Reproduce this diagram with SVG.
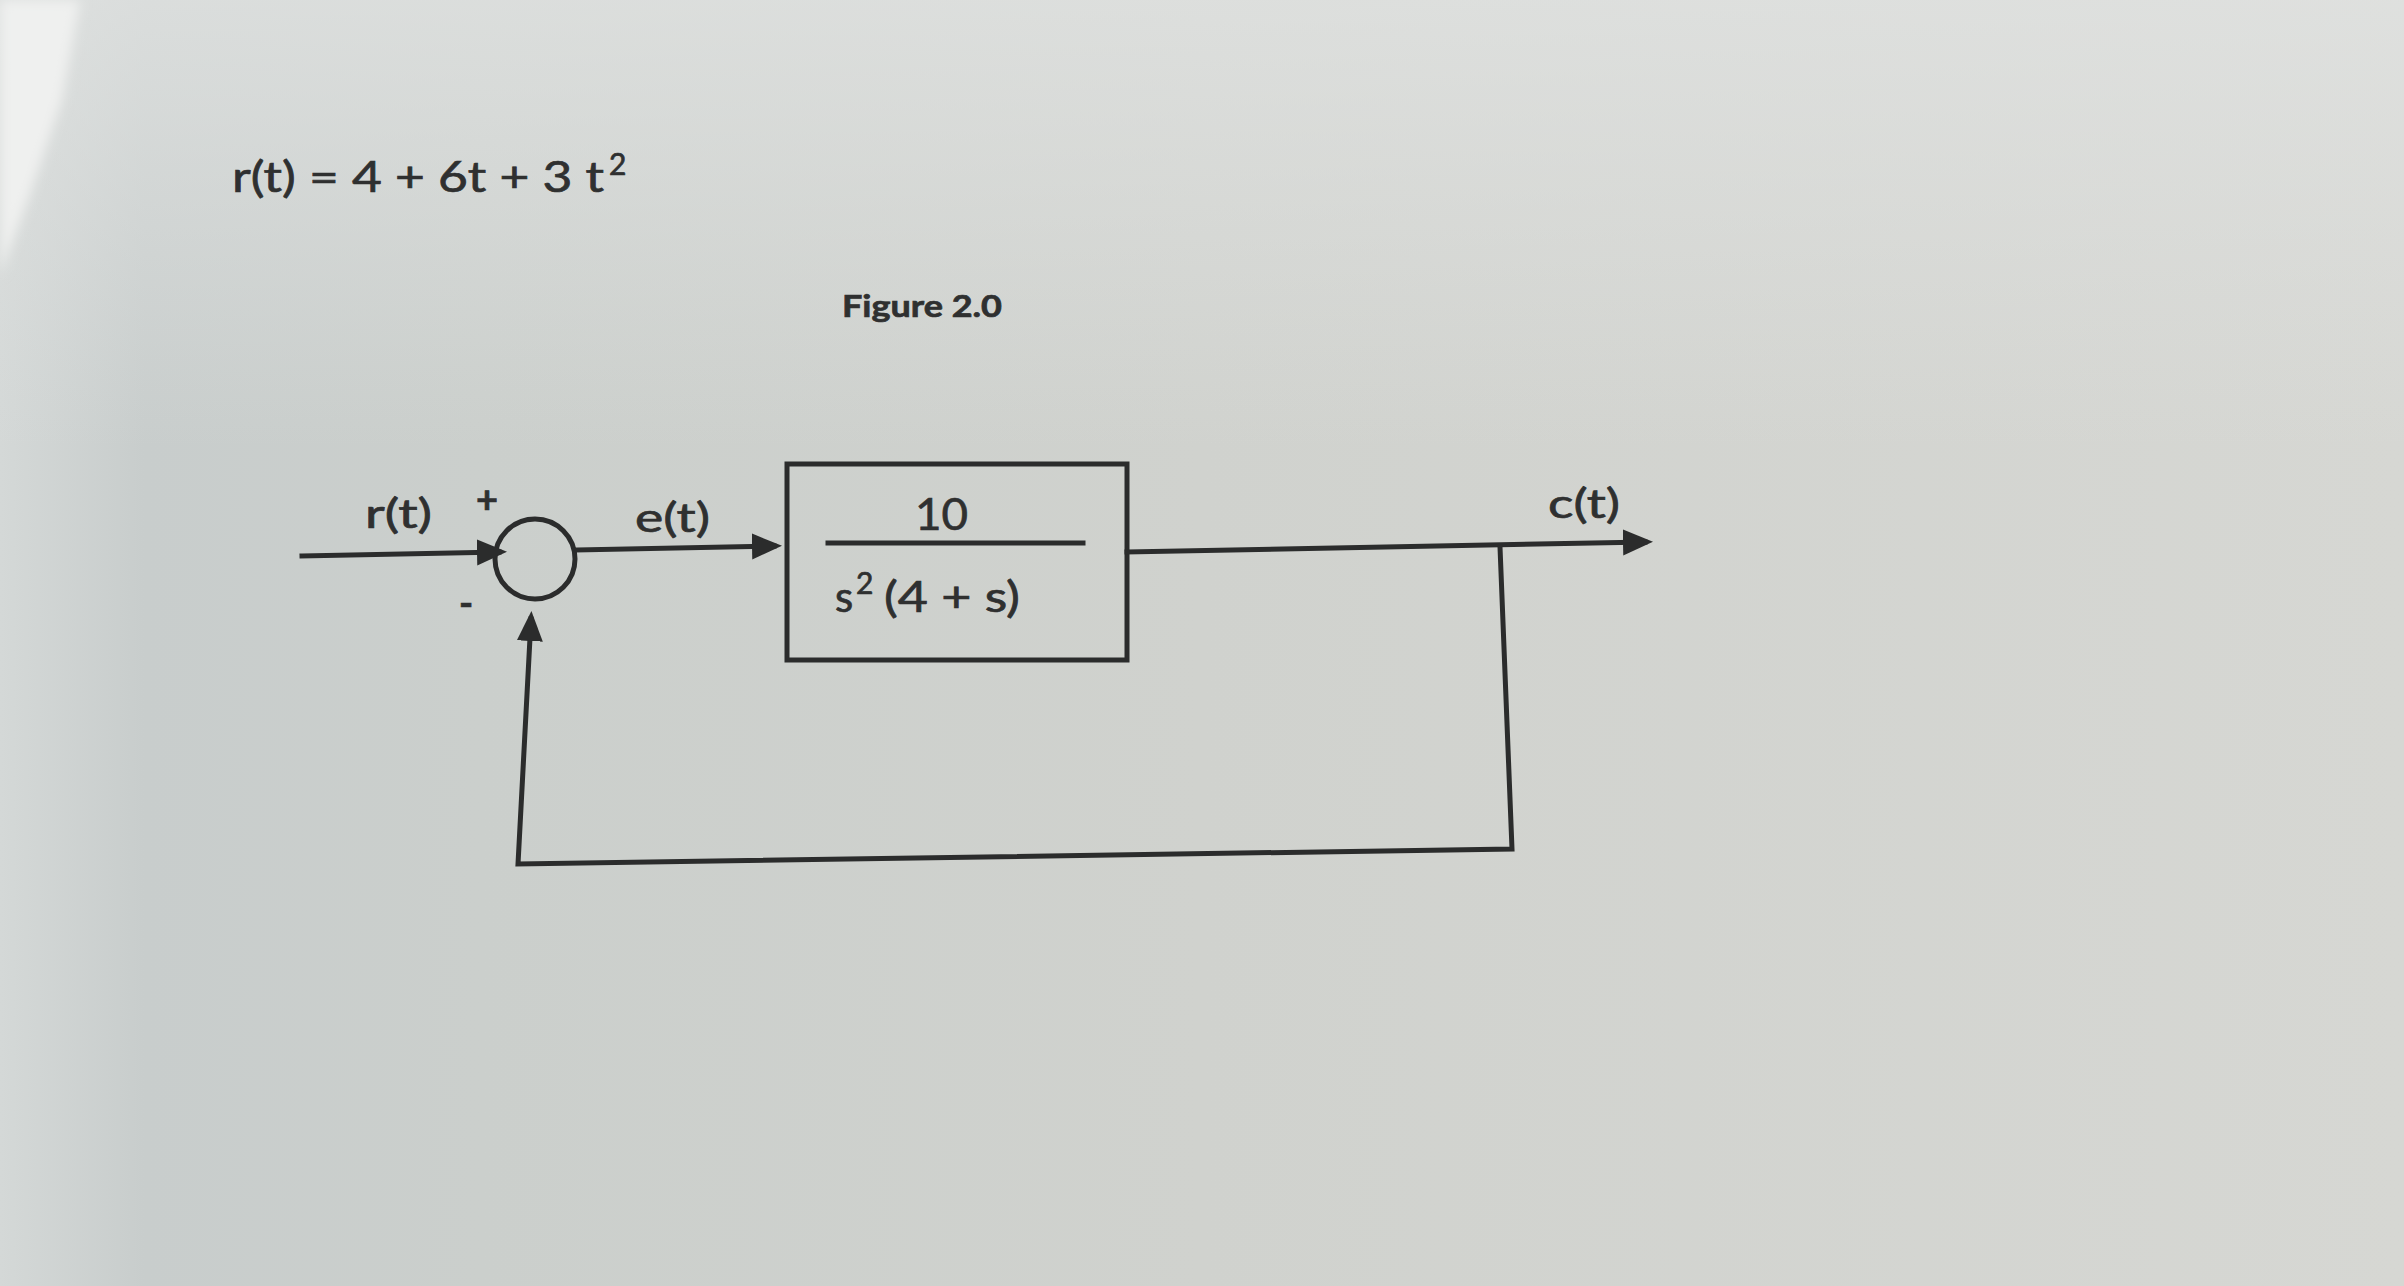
<svg xmlns="http://www.w3.org/2000/svg" width="2404" height="1286" viewBox="0 0 2404 1286">
<defs>
<linearGradient id="paper" x1="0" y1="0" x2="1" y2="0">
<stop offset="0" stop-color="#d4d8d7"/>
<stop offset="0.06" stop-color="#c8cdcc"/>
<stop offset="0.2" stop-color="#cbcfcc"/>
<stop offset="0.5" stop-color="#d0d2ce"/>
<stop offset="1" stop-color="#d6d7d3"/>
</linearGradient>
<linearGradient id="topLight" x1="0" y1="0" x2="0" y2="1">
<stop offset="0" stop-color="#e2e4e3" stop-opacity="0.7"/>
<stop offset="1" stop-color="#e2e4e3" stop-opacity="0"/>
</linearGradient>
<filter id="soft" x="-50%" y="-50%" width="200%" height="200%">
<feGaussianBlur stdDeviation="6"/>
</filter>
<marker id="arrow" markerUnits="userSpaceOnUse" markerWidth="32" markerHeight="28" refX="22" refY="13" orient="auto">
<path d="M0,0 L30,13 L0,26 Z" fill="#2b2c2c"/>
</marker>
</defs>
<style>
.ink{stroke:#2b2c2c;stroke-width:5;fill:none;stroke-linecap:square}
.t{font-family:Lato,"Open Sans","Liberation Sans",sans-serif;fill:#2f3030;stroke:#2f3030;stroke-width:0.7}
.lbl{font-size:40px}
</style>
<rect x="0" y="0" width="2404" height="1286" fill="url(#paper)"/>
<rect x="0" y="0" width="2404" height="450" fill="url(#topLight)"/>
<polygon points="0,0 80,0 62,100 28,200 0,275" fill="#eff0ef" filter="url(#soft)"/>

<g id="equation">
<text class="t" x="232" y="192" font-size="42" textLength="372" lengthAdjust="spacingAndGlyphs">r(t) = 4 + 6t + 3 t</text>
<text class="t" x="609" y="175" font-size="30">2</text>
</g>
<g id="figure-caption">
<text class="t" x="842" y="317" font-size="31" font-weight="bold" textLength="160" lengthAdjust="spacingAndGlyphs">Figure 2.0</text>
</g>

<g id="input-label">
<text class="t lbl" x="365" y="528" textLength="67" lengthAdjust="spacingAndGlyphs">r(t)</text>
</g>
<g id="summing-junction">
<circle class="ink" cx="535" cy="559" r="40"/>
<text class="t" x="487" y="513" font-size="38" font-weight="bold" text-anchor="middle">+</text>
<text class="t" x="466" y="617" font-size="38" font-weight="bold" text-anchor="middle">-</text>
</g>
<g id="error-label">
<text class="t lbl" x="635" y="532" textLength="75" lengthAdjust="spacingAndGlyphs">e(t)</text>
</g>
<g id="plant">
<rect class="ink" x="787" y="464" width="340" height="196"/>
<line class="ink" x1="828" y1="543" x2="1083" y2="543"/>
<text class="t" x="915" y="530" font-size="45" textLength="53" lengthAdjust="spacingAndGlyphs">10</text>
<text class="t" x="835" y="612" font-size="42">s</text>
<text class="t" x="856" y="594" font-size="30">2</text>
<text class="t" x="884" y="612" font-size="42" textLength="136" lengthAdjust="spacingAndGlyphs">(4 + s)</text>
</g>
<g id="output-label">
<text class="t lbl" x="1548" y="518" textLength="72" lengthAdjust="spacingAndGlyphs">c(t)</text>
</g>

<g id="connectors">
<line class="ink" x1="302" y1="556" x2="499" y2="552" marker-end="url(#arrow)"/>
<line class="ink" x1="577" y1="550" x2="774" y2="546" marker-end="url(#arrow)"/>
<line class="ink" x1="1127" y1="552" x2="1645" y2="542" marker-end="url(#arrow)"/>
<polyline class="ink" points="1500,547 1512,849 518,864 531,619" marker-end="url(#arrow)" stroke-linejoin="miter"/>
</g>
</svg>
